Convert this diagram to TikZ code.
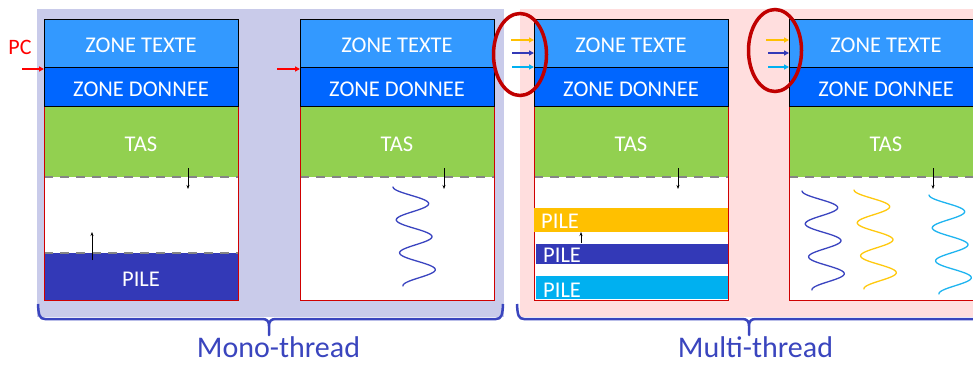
\documentclass[tikz,border=0pt]{standalone}
\usepackage{fontspec}
\setmainfont{Carlito}
\usetikzlibrary{arrows.meta,shapes.geometric}
\definecolor{lav}{HTML}{C9CBEA}
\definecolor{pinkbg}{HTML}{FFDEDE}
\definecolor{ztexte}{HTML}{3399FF}
\definecolor{zdonnee}{HTML}{0066FF}
\definecolor{tas}{HTML}{92D050}
\definecolor{piledark}{HTML}{3339B7}
\definecolor{pileor}{HTML}{FFC000}
\definecolor{pilecy}{HTML}{00B0F0}
\definecolor{ellred}{HTML}{C00000}
\definecolor{bracecol}{HTML}{3A45BE}
\definecolor{boxred}{HTML}{D00000}
\definecolor{dashgray}{HTML}{858585}
\definecolor{wblue}{HTML}{3A44C0}
\definecolor{wyellow}{HTML}{FFC90E}
\definecolor{wcyan}{HTML}{1EB4F0}
\tikzset{
  zone/.style={rectangle, minimum width=194pt, anchor=north west, inner sep=0pt, outer sep=0pt, line width=0.9pt},
  ztext/.style={text=white, font=\fontsize{22.5}{24}\selectfont, anchor=base, inner sep=0pt},
  pilel/.style={text=white, font=\fontsize{22.5}{24}\selectfont, anchor=base west, inner sep=0pt},
  dashsep/.style={draw=dashgray, line width=2pt, dash pattern=on 9pt off 7pt},
  smallarr/.style={draw=black, line width=0.6pt, -{Stealth[length=4pt,width=3pt]}},
  colarr/.style={line width=1.5pt, -{Triangle[length=5pt,width=5pt]}},
  bracestyle/.style={draw=bracecol, line width=2.5pt, line join=round},
  lbl/.style={text=bracecol, font=\fontsize{30}{34}\selectfont, anchor=base, inner sep=0pt},
  ell/.style={draw=ellred, line width=3.5pt, ellipse, minimum width=53pt, minimum height=82pt, inner sep=0pt},
  wavestyle/.style={line width=1.3pt, line cap=round}
}
% #1 prefix, #2 left x
\newcommand\memtop[2]{%
  \fill[white] (#2,19) rectangle ++(194,281);
  \node[zone, fill=tas, minimum height=71pt] (#1tas) at (#2,106) {};
  \node[ztext] (#1tasl) at (#2+97,151) {TAS};
}
\newcommand\memframe[2]{%
  \node[zone, draw=boxred, minimum height=281pt] (#1box) at (#2,19) {};
  \node[zone, fill=ztexte, draw=black, minimum height=48pt] (#1tx) at (#2,19) {};
  \node[zone, fill=zdonnee, draw=black, minimum height=39pt] (#1dn) at (#2,67) {};
  \node[ztext] (#1txl) at (#2+97,52) {ZONE TEXTE};
  \node[ztext] (#1dnl) at (#2+97,96) {ZONE DONNEE};
  \coordinate (#1da) at (#2+144,168);
  \coordinate (#1db) at (#2+144,189);
  \draw[smallarr] (#1da) -- (#1db);
}
\newcommand\wave[3]{% color, x, y
  \draw[wavestyle, draw=#1] plot[domain=0:99, samples=120, smooth]
    ({#2 + 17 - 17*cos(10.909*\x) + 0.1*\x}, {#3 + \x});
}
\begin{document}
\begin{tikzpicture}[x=1pt,y=-1pt]
\useasboundingbox (0,0) rectangle (973,364);
\clip (0,0) rectangle (973,364);
% panels
\fill[lav] (37,9) rectangle (504,317);
\fill[pinkbg] (520,9) rectangle (990,317);

% ---- box 1 ----
\memtop{a}{44}
\node[zone, fill=piledark, minimum height=47pt] (apile) at (44,253) {};
\node[ztext] (apilel) at (141,286) {PILE};
\draw[dashsep] (44,177) -- (238,177);
\draw[dashsep] (44,253) -- (238,253);
\memframe{a}{44}
\coordinate (aua) at (92,260);
\coordinate (aub) at (92,232);
\draw[smallarr] (aua) -- (aub);

% ---- box 2 ----
\memtop{b}{300}
\draw[dashsep] (300,177) -- (494,177);
\memframe{b}{300}
\wave{wblue}{393}{187}

% ---- box 3 ----
\memtop{c}{534}
\draw[dashsep] (534,177) -- (728,177);
\memframe{c}{534}
\node[zone, fill=pileor, minimum height=24pt] (cp1) at (534,208) {};
\node[zone, fill=piledark, minimum height=20pt, minimum width=192pt] (cp2) at (536,244) {};
\node[zone, fill=pilecy, minimum height=23pt, minimum width=192pt] (cp3) at (536,276) {};
\node[pilel] (cp1l) at (541,228) {PILE};
\node[pilel] (cp2l) at (543,262) {PILE};
\node[pilel] (cp3l) at (543,297) {PILE};
\coordinate (cua) at (581,243);
\coordinate (cub) at (581,232);
\draw[smallarr] (cua) -- (cub);

% ---- box 4 ----
\memtop{d}{789}
\draw[dashsep] (789,177) -- (983,177);
\memframe{d}{789}
\wave{wblue}{802}{191}
\wave{wyellow}{854}{190}
\wave{wcyan}{929}{195}

% ---- PC ----
\node[text=red, font=\fontsize{22}{24}\selectfont, anchor=base, inner sep=0pt] (pc) at (20,54) {PC};
\coordinate (pc1s) at (22,69);
\coordinate (pc1e) at (44,69);
\draw[colarr, draw=red] (pc1s) -- (pc1e);
\coordinate (pc2s) at (277,69);
\coordinate (pc2e) at (300,69);
\draw[colarr, draw=red] (pc2s) -- (pc2e);

% ---- ellipses ----
\node[ell] (e1) at (520,54.5) {};
\node[ell] (e2) at (775,50.5) {};
\coordinate (y1s) at (511,40); \coordinate (y1e) at (534,40);
\coordinate (b1s) at (512,53); \coordinate (b1e) at (534,53);
\coordinate (c1s) at (512,67); \coordinate (c1e) at (534,67);
\draw[colarr, draw=pileor] (y1s) -- (y1e);
\draw[colarr, draw=piledark] (b1s) -- (b1e);
\draw[colarr, draw=pilecy] (c1s) -- (c1e);
\coordinate (y2s) at (766,40); \coordinate (y2e) at (789,40);
\coordinate (b2s) at (768,53); \coordinate (b2e) at (789,53);
\coordinate (c2s) at (768,67); \coordinate (c2e) at (789,67);
\draw[colarr, draw=pileor] (y2s) -- (y2e);
\draw[colarr, draw=piledark] (b2s) -- (b2e);
\draw[colarr, draw=pilecy] (c2s) -- (c2e);

% ---- braces ----
\draw[bracestyle] (38,304) .. controls (38.5,315) and (39.5,319) .. (45,319) -- (262,319)
  .. controls (267,319) and (269,321) .. (269,326) -- (269,335) -- (269,326)
  .. controls (269,321) and (271,319) .. (276,319) -- (496,319)
  .. controls (501.5,319) and (502.5,315) .. (503,304);
\draw[bracestyle] (517,304) .. controls (517.5,315) and (518.5,319) .. (524,319) -- (742,319)
  .. controls (747,319) and (749,321) .. (749,326) -- (749,335) -- (749,326)
  .. controls (749,321) and (751,319) .. (756,319) -- (975,319)
  .. controls (980.5,319) and (981.5,315) .. (982,304);
\node[lbl] (mono) at (278.5,357) {Mono-thread};
\node[lbl] (multi) at (755.5,357) {Multi-thread};
\end{tikzpicture}
\end{document}
